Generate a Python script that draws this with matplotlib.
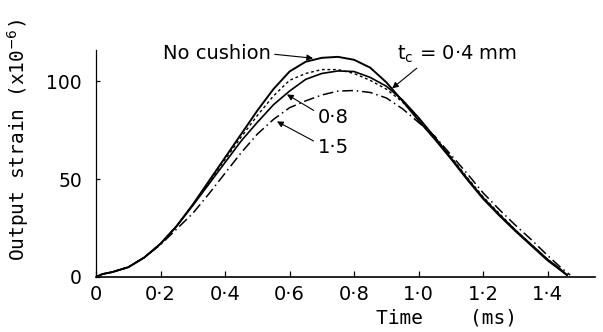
import matplotlib
matplotlib.use("Agg")
import matplotlib.pyplot as plt

# time (ms) and output strain (x1e-6)
t_none = [0, 0.02, 0.05, 0.1, 0.15, 0.2, 0.25, 0.3, 0.35, 0.4, 0.45, 0.5, 0.55, 0.6, 0.65,
          0.7, 0.75, 0.8, 0.85, 0.9, 0.95, 1.0, 1.05, 1.1, 1.15, 1.2, 1.25, 1.3, 1.35,
          1.4, 1.44, 1.46]
y_none = [0, 1.5, 2.5, 5, 10, 17, 26, 37, 49, 61, 73, 85, 96, 105, 110,
          112, 112.5, 111, 107, 99.5, 90, 80, 70.5, 60.5, 50, 40, 31.5, 23.5, 16,
          8.5, 3.5, 1]

t_04 = [0, 0.02, 0.05, 0.1, 0.15, 0.2, 0.25, 0.3, 0.35, 0.4, 0.45, 0.5, 0.55, 0.6, 0.65,
        0.7, 0.75, 0.8, 0.85, 0.9, 0.95, 1.0, 1.05, 1.1, 1.15, 1.2, 1.25, 1.3, 1.35,
        1.4, 1.44, 1.46]
y_04 = [0, 1.5, 2.5, 5, 10, 17, 26, 37, 48.5, 60, 71.5, 82.5, 92.5, 100.5, 104,
        106, 106, 104, 100.5, 96, 89.5, 81, 71.5, 61.5, 51, 41, 32.5, 24, 16.5,
        9, 4, 1]

t_08 = [0, 0.02, 0.05, 0.1, 0.15, 0.2, 0.25, 0.3, 0.35, 0.4, 0.45, 0.5, 0.55, 0.6, 0.65,
        0.7, 0.75, 0.8, 0.85, 0.9, 0.95, 1.0, 1.05, 1.1, 1.15, 1.2, 1.25, 1.3, 1.35,
        1.4, 1.44, 1.46]
y_08 = [0, 1.5, 2.5, 5, 10, 17, 26, 36.5, 47.5, 58.5, 69.5, 79, 88, 95, 101,
        104, 105.3, 105, 102, 97.5, 90.5, 81.5, 71.5, 61, 50.5, 40.5, 32, 24, 16.5,
        9, 4, 1]

t_15 = [0, 0.02, 0.05, 0.1, 0.15, 0.2, 0.25, 0.3, 0.35, 0.4, 0.45, 0.5, 0.55, 0.6, 0.65,
        0.7, 0.75, 0.8, 0.85, 0.9, 0.95, 1.0, 1.05, 1.1, 1.15, 1.2, 1.25, 1.3, 1.35,
        1.4, 1.44, 1.47]
y_15 = [0, 1.5, 2.5, 5, 10, 16.5, 24.5, 32.5, 42.5, 53, 63.5, 73, 80.5, 86.5, 90,
        93, 95, 95.3, 94.3, 91.5, 86, 79, 72, 62.5, 53, 43, 34.5, 26.5, 19,
        11, 5, 1]

x_ticks = [0, 0.2, 0.4, 0.6, 0.8, 1.0, 1.2, 1.4]
x_ticklabels = ["0", "0·2", "0·4", "0·6", "0·8", "1·0", "1·2", "1·4"]
y_ticks = [0, 50, 100]
y_ticklabels = ["0", "50", "100"]

plt.rcParams["font.family"] = "DejaVu Sans"

fig = plt.figure(figsize=(6.03, 3.32), dpi=100)
ax = fig.add_axes([96 / 603, 55 / 332, 499 / 603, 227 / 332])

ax.plot(t_none, y_none, color="black", lw=1.4, ls="-")
ax.plot(t_04, y_04, color="black", lw=1.0, ls=(0, (2, 2)))
ax.plot(t_08, y_08, color="black", lw=1.2, ls="-")
ax.plot(t_15, y_15, color="black", lw=1.1, ls=(0, (7, 2.5, 1, 2.5)))

ax.set_xlim(0, 1.547)
ax.set_ylim(0, 116)
ax.spines["top"].set_visible(False)
ax.spines["right"].set_visible(False)
ax.spines["left"].set_linewidth(0.9)
ax.spines["bottom"].set_linewidth(1.2)

ax.set_xticks(x_ticks)
ax.set_xticklabels(x_ticklabels)
ax.set_yticks(y_ticks)
ax.set_yticklabels(y_ticklabels)
ax.tick_params(axis="x", direction="in", length=4, width=0.9, pad=6, labelsize=14)
ax.tick_params(axis="y", direction="in", length=3, width=0.9, pad=10, labelsize=13.5)

ax.set_xlabel("Time    (ms)", fontsize=14, family="DejaVu Sans Mono")
ax.xaxis.set_label_coords((447 - 96) / 499, -0.14)
fig.text(18 / 603, 1 - 140 / 332, "Output strain (x10$^{-6}$)", rotation=90,
         ha="center", va="center", fontsize=14, family="DejaVu Sans Mono")

arrow = dict(arrowstyle="-|>", color="black", lw=0.8, mutation_scale=9,
             shrinkA=1, shrinkB=0)
ax.annotate("No cushion", xy=(0.673, 111.8), xytext=(0.374, 114),
            ha="center", va="center", fontsize=14, annotation_clip=False,
            arrowprops=dict(arrow, relpos=(1.0, 0.5)))
ax.annotate("t$_\\mathrm{c}$ = 0·4 mm", xy=(0.918, 96.4), xytext=(1.12, 114),
            ha="center", va="center", fontsize=14, annotation_clip=False,
            arrowprops=dict(arrow, relpos=(0.2, 0.0)))
ax.annotate("0·8", xy=(0.592, 93.3), xytext=(0.735, 81.5),
            ha="center", va="center", fontsize=14,
            arrowprops=dict(arrow, relpos=(0.0, 0.75)))
ax.annotate("1·5", xy=(0.561, 79.5), xytext=(0.735, 66),
            ha="center", va="center", fontsize=14,
            arrowprops=dict(arrow, relpos=(0.0, 0.75)))

fig.savefig("out.png", dpi=100)
plt.close(fig)
